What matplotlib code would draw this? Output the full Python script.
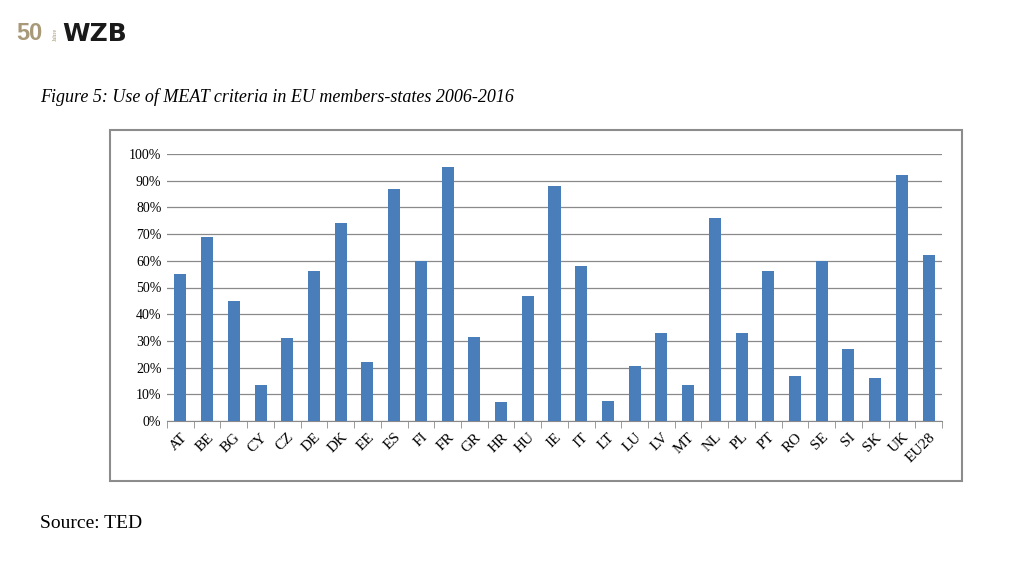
import numpy as np
import matplotlib.pyplot as plt
from matplotlib.patches import Rectangle
from matplotlib.ticker import PercentFormatter

# Data
countries = ['AT', 'BE', 'BG', 'CY', 'CZ', 'DE', 'DK', 'EE', 'ES', 'FI', 'FR', 'GR', 'HR', 'HU',
             'IE', 'IT', 'LT', 'LU', 'LV', 'MT', 'NL', 'PL', 'PT', 'RO', 'SE', 'SI', 'SK', 'UK', 'EU28']
meat_share = [55, 69, 45, 13.5, 31, 56, 74, 22, 87, 60, 95, 31.5, 7, 47,
              88, 58, 7.5, 20.5, 33, 13.5, 76, 33, 56, 17, 60, 27, 16, 92, 62]

serif = ['Liberation Serif', 'DejaVu Serif']

fig = plt.figure(figsize=(10.24, 5.76), dpi=100)
fig.patch.set_facecolor('white')

# chart frame (as in the pasted Excel chart)
fig.patches.append(Rectangle((110 / 1024, 1 - 481 / 576), 852 / 1024, 351 / 576,
                             transform=fig.transFigure, fill=False,
                             edgecolor='#8c8c8c', linewidth=1.5))

ax = fig.add_axes([167 / 1024, 1 - 421 / 576, 775 / 1024, 267 / 576])
x = np.arange(len(countries))
ax.bar(x, meat_share, width=0.45, color='#4a7ebb', zorder=3)

ax.set_xlim(-0.5, len(countries) - 0.5)
ax.set_ylim(0, 100)
ax.set_yticks(np.arange(0, 101, 10))
ax.yaxis.set_major_formatter(PercentFormatter(decimals=0))
ax.grid(axis='y', color='#8a8a8a', linewidth=0.9, zorder=0)
ax.set_xticks(x)
ax.set_xticklabels(countries, rotation=45, ha='right', rotation_mode='anchor',
                   family=serif, fontsize=11)
ax.set_xticks(np.arange(-0.5, len(countries), 1), minor=True)
ax.tick_params(axis='x', which='major', length=0, pad=7)
ax.tick_params(axis='x', which='minor', length=5, color='#8a8a8a')
ax.tick_params(axis='y', length=0, pad=4)
for lab in ax.get_yticklabels():
    lab.set_family(serif)
    lab.set_fontsize(10)
for s in ['top', 'right', 'left']:
    ax.spines[s].set_visible(False)
ax.spines['bottom'].set_color('#8a8a8a')

# header: logo and caption
fig.text(16 / 1024, 1 - 34 / 576, '50', color='#a89a78', fontsize=17, fontweight='bold',
         family='Liberation Sans', va='center')
fig.text(55 / 1024, 1 - 34 / 576, 'Jahre', color='#a89a78', fontsize=4.5, rotation=90,
         family=serif, va='center', ha='center')
fig.text(62 / 1024, 1 - 34 / 576, 'WZB', color='#1a1a1a', fontsize=18, fontweight='bold',
         family='DejaVu Sans', va='center')
fig.text(40 / 1024, 1 - 97 / 576, 'Figure 5: Use of MEAT criteria in EU members-states 2006-2016',
         family=serif, style='italic', fontsize=13, va='center')
fig.text(40 / 1024, 1 - 524 / 576, 'Source: TED', family=serif, fontsize=14, va='center')

plt.savefig('out.png', dpi=100)
